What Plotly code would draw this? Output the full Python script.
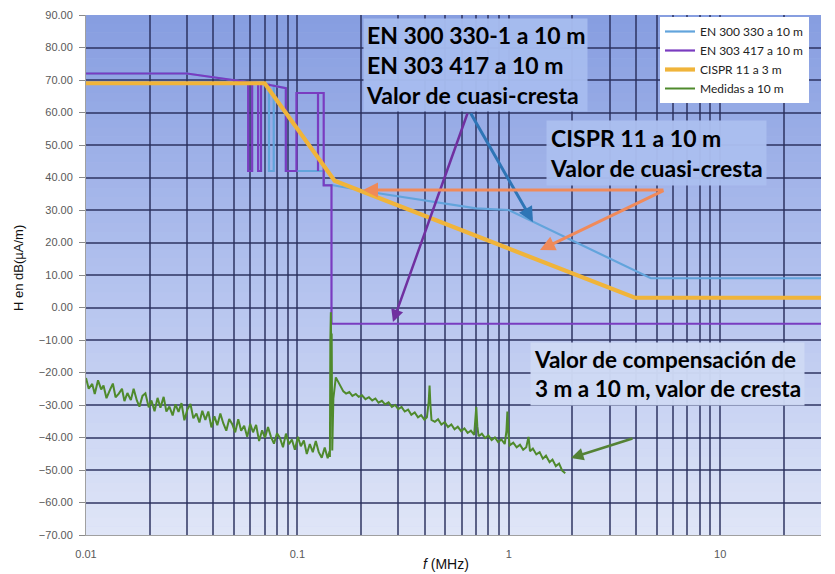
import math
import plotly.graph_objects as go

# ---------------- data ----------------
freq_en300330 = [0.01, 0.030, 0.0585, 0.0734, 0.0734, 0.0773, 0.0773, 0.0882, 0.0882,
                 0.1252, 0.1332, 0.1332, 0.145, 0.25, 0.70, 1.0, 4.7, 30.0]
h_en300330 = [72.0, 72.0, 69.3, 68.8, 42.0, 42.0, 68.3, 67.5, 42.0,
              42.0, 42.0, 37.7, 37.7, 35.0, 30.5, 30.0, 9.0, 9.0]

freq_en303417 = [0.01, 0.030, 0.0585, 0.0585, 0.0611, 0.0611, 0.0652, 0.0652, 0.0673,
                 0.0673, 0.0882, 0.0882, 0.099, 0.099, 0.1252, 0.1252, 0.1252,
                 0.1332, 0.1332, 0.145, 0.145, 30.0]
h_en303417 = [72.0, 72.0, 69.3, 42.0, 42.0, 69.2, 69.1, 42.0, 42.0,
              69.0, 67.5, 42.0, 42.0, 66.0, 66.0, 42.0, 66.0,
              66.0, 37.6, 37.6, -5.0, -5.0]

freq_cispr11 = [0.01, 0.07, 0.15, 3.95, 30.0]
h_cispr11 = [69.0, 69.0, 39.0, 3.0, 3.0]

freq_medidas = [
    0.0100, 0.0103, 0.0107, 0.0110, 0.0114, 0.0118, 0.0121, 0.0125, 0.0130, 0.0134,
    0.0138, 0.0143, 0.0148, 0.0152, 0.0157, 0.0163, 0.0168, 0.0174, 0.0179, 0.0185,
    0.0191, 0.0198, 0.0204, 0.0211, 0.0218, 0.0225, 0.0233, 0.0240, 0.0248, 0.0257,
    0.0265, 0.0274, 0.0283, 0.0292, 0.0302, 0.0312, 0.0322, 0.0333, 0.0344, 0.0355,
    0.0367, 0.0379, 0.0392, 0.0405, 0.0418, 0.0432, 0.0446, 0.0461, 0.0476, 0.0492,
    0.0508, 0.0525, 0.0542, 0.0560, 0.0579, 0.0598, 0.0617, 0.0638, 0.0659, 0.0681,
    0.0703, 0.0726, 0.0750, 0.0775, 0.0801, 0.0827, 0.0855, 0.0883, 0.0912, 0.0942,
    0.0973, 0.1005, 0.1038, 0.1073, 0.1108, 0.1145, 0.1183, 0.1222, 0.1262, 0.1304,
    0.1347, 0.1391, 0.1420,
    0.1425, 0.1432, 0.1440, 0.1447, 0.1453, 0.1462, 0.1480, 0.1520, 0.1560, 0.1600,
    0.1650, 0.1700, 0.1760, 0.1820, 0.1890, 0.1950, 0.2020, 0.2100, 0.2180, 0.2260,
    0.2340, 0.2420, 0.2510, 0.2600, 0.2700, 0.2800, 0.2900, 0.3000, 0.3110, 0.3220,
    0.3340, 0.3460, 0.3590, 0.3720, 0.3850, 0.3990, 0.4100, 0.4180, 0.4220, 0.4260,
    0.4310, 0.4470, 0.4630, 0.4800, 0.4980, 0.5160, 0.5350, 0.5540, 0.5740, 0.5950,
    0.6170, 0.6390, 0.6620, 0.6860, 0.6950, 0.7020, 0.7100, 0.7200, 0.7460, 0.7730,
    0.8010, 0.8300, 0.8600, 0.8910, 0.9230, 0.9570, 0.9750, 0.9850, 0.9950, 1.0100,
    1.0500, 1.0900, 1.1300, 1.1700, 1.2100, 1.2400, 1.2600, 1.3000, 1.3500, 1.4000,
    1.4500, 1.5000, 1.5600, 1.6100, 1.6700, 1.7300, 1.7900, 1.8500]
h_medidas = [
    -21.7, -25.0, -23.5, -26.6, -22.4, -25.2, -24.0, -27.9, -25.3, -23.4,
    -27.6, -26.5, -25.0, -28.8, -26.3, -28.5, -25.0, -28.6, -30.5, -27.2,
    -26.4, -30.7, -28.6, -31.9, -27.8, -30.8, -27.5, -32.0, -30.5, -33.2,
    -29.8, -32.1, -29.4, -34.7, -31.3, -29.7, -34.1, -32.6, -35.4, -31.8,
    -34.6, -32.0, -36.9, -33.5, -36.2, -32.6, -35.6, -37.9, -34.3, -35.9,
    -38.4, -34.4, -37.9, -36.4, -39.8, -35.8, -38.4, -36.1, -41.1, -37.8,
    -40.1, -36.8, -39.8, -41.9, -38.7, -40.1, -43.0, -38.8, -42.1, -40.6,
    -43.8, -39.8, -42.7, -40.9, -45.1, -42.0, -44.5, -41.1, -44.5, -46.2,
    -43.1, -46.4, -44.2,
    -46.0, -10.0, -1.5, -18.0, -8.0, -44.0, -28.0, -21.5, -22.8, -24.5,
    -25.8, -26.5, -26.0, -27.2, -26.6, -27.5, -27.0, -28.2, -27.6, -28.6,
    -28.0, -29.3, -28.7, -29.8, -29.2, -30.6, -30.0, -31.3, -30.6, -32.0,
    -31.4, -33.0, -32.3, -33.8, -33.1, -34.5, -33.8, -29.0, -24.0, -30.0,
    -34.6, -35.2, -34.4, -36.0, -35.3, -36.8, -36.0, -37.5, -36.7, -38.0,
    -37.2, -38.6, -37.9, -39.2, -35.0, -30.6, -36.5, -39.6, -38.8, -40.2,
    -39.4, -40.8, -40.0, -41.4, -40.6, -42.0, -38.0, -32.0, -38.5, -42.4,
    -41.6, -43.0, -42.2, -43.8, -43.0, -39.8, -44.2, -43.4, -45.2, -44.5,
    -46.5, -45.6, -47.6, -46.8, -48.8, -48.0, -50.2, -51.0]

series_names = ["EN 300 330 a 10 m", "EN 303 417 a 10 m", "CISPR 11 a 3 m", "Medidas a 10 m"]
y_tick_step = 10
y_range = [-70, 90]
x_range_mhz = [0.01, 30.0]

# ---------------- figure ----------------
fig = go.Figure()
fig.add_trace(go.Scatter(x=freq_en300330, y=h_en300330, mode="lines", name=series_names[0],
                         line=dict(color="#62a4dc", width=2.2)))
fig.add_trace(go.Scatter(x=freq_en303417, y=h_en303417, mode="lines", name=series_names[1],
                         line=dict(color="#7a3cc0", width=2.2)))
fig.add_trace(go.Scatter(x=freq_cispr11, y=h_cispr11, mode="lines", name=series_names[2],
                         line=dict(color="#f0b43a", width=4.2)))
fig.add_trace(go.Scatter(x=freq_medidas, y=h_medidas, mode="lines", name=series_names[3],
                         line=dict(color="#4f8a2c", width=2.0)))

# gradient plot background (style only)
stops = [(0.0, (134, 157, 224)), (0.5, (178, 193, 238)), (1.0, (224, 230, 247))]
def grad(t):
    for (t0, c0), (t1, c1) in zip(stops[:-1], stops[1:]):
        if t <= t1:
            u = (t - t0) / (t1 - t0)
            return tuple(int(round(a + (b - a) * u)) for a, b in zip(c0, c1))
    return stops[-1][1]
nb = 60
shapes = []
for i in range(nb):
    c = grad((i + 0.5) / nb)
    shapes.append(dict(type="rect", xref="paper", yref="paper", x0=0, x1=1,
                       y0=1 - (i + 1) / nb - 0.001, y1=1 - i / nb,
                       fillcolor="rgb(%d,%d,%d)" % c, line=dict(width=0), layer="below"))

grid_col = "rgba(40,46,92,0.72)"

# page offset of the figure inside the browser window (body margin)
OFF = 8
PL, PT, PW, PH = 86 - OFF, 15 - OFF, 735, 520

def px2x(px):
    return -2 + (px - 86) / 211.4

def px2y(py):
    return 90 - (py - 15) / 3.25

box_font = dict(family="Lato", size=23, color="black")
annotations = [
    dict(x=px2x(363), y=px2y(18), xref="x", yref="y", xanchor="left", yanchor="top",
         text="<b>EN 300 330-1 a 10 m<br>EN 303 417 a 10 m<br>Valor de cuasi-cresta</b>",
         align="left", showarrow=False, font=box_font,
         bgcolor="rgba(166,188,238,0.97)", borderpad=2),
    dict(x=px2x(546), y=px2y(120), xref="x", yref="y", xanchor="left", yanchor="top",
         text="<b>CISPR 11 a 10 m<br>Valor de cuasi-cresta</b>",
         align="left", showarrow=False, font=box_font,
         bgcolor="rgba(170,190,238,0.97)", borderpad=3),
    dict(x=px2x(530), y=px2y(342), xref="x", yref="y", xanchor="left", yanchor="top",
         text="<b>Valor de compensación de<br>3 m a 10 m, valor de cresta</b>",
         align="left", showarrow=False, font=dict(family="Lato", size=22.5, color="black"),
         bgcolor="rgba(206,217,244,0.97)", borderpad=3),
]
arrows = [
    ((468, 112), (393, 322), "#7030a0", 2.5),
    ((470, 112), (533, 222), "#2e75b6", 3),
    ((665, 190), (363, 190), "#f08a5a", 3),
    ((665, 190), (540, 250), "#f08a5a", 3),
    ((634, 438), (571, 458), "#548235", 2.5),
]
for (tx, ty), (hx, hy), col, w in arrows:
    annotations.append(dict(x=px2x(hx), y=px2y(hy), ax=px2x(tx), ay=px2y(ty),
                            xref="x", yref="y", axref="x", ayref="y", text="",
                            showarrow=True, arrowhead=2, arrowsize=1, arrowwidth=w,
                            arrowcolor=col))

# axis titles placed in the margins
annotations.append(dict(x=(18 - 86) / PW, y=1 - (268 - 15) / PH, xref="paper", yref="paper",
                        xanchor="center", yanchor="middle", text="H en dB(µA/m)",
                        textangle=-90, showarrow=False,
                        font=dict(family="Liberation Sans", size=13, color="#111111")))
annotations.append(dict(x=(446 - 86) / PW, y=1 - (564 - 15) / PH, xref="paper", yref="paper",
                        xanchor="center", yanchor="middle", text="<i>f</i> (MHz)",
                        showarrow=False,
                        font=dict(family="Liberation Sans", size=14, color="#111111")))

tick_font = dict(family="Liberation Sans", size=11, color="#595959")
fig.update_layout(
    width=835 - OFF, height=574 - OFF,
    margin=dict(l=PL, r=835 - OFF - PL - PW, t=PT, b=574 - OFF - PT - PH, autoexpand=False),
    paper_bgcolor="white", plot_bgcolor="#b2c1ed",
    shapes=shapes, annotations=annotations,
    showlegend=True,
    legend=dict(x=(660 - 86) / PW, y=1 - (17 - 15) / PH, xanchor="left", yanchor="top",
                bgcolor="white",
                font=dict(family="Lato", size=12, color="#222222"),
                tracegroupgap=0, itemwidth=30),
    xaxis=dict(type="log", range=[math.log10(x_range_mhz[0]), math.log10(x_range_mhz[1])],
               dtick=1, showgrid=True, gridcolor=grid_col, gridwidth=1.5,
               minor=dict(dtick="D1", showgrid=True, gridcolor=grid_col, gridwidth=1.5),
               showline=True, linecolor="#a0a0a0", linewidth=1, automargin=False,
               ticks="", ticklabelstandoff=9, tickfont=tick_font, zeroline=False),
    yaxis=dict(range=y_range, dtick=y_tick_step, tickformat=".2f", automargin=False,
               showgrid=True, gridcolor=grid_col, gridwidth=1.5, zeroline=False,
               showline=True, linecolor="#a0a0a0", linewidth=1,
               ticks="outside", ticklen=6, tickcolor="#8a8a8a", ticklabelstandoff=4,
               tickfont=tick_font),
)

fig.write_html("out.html")
